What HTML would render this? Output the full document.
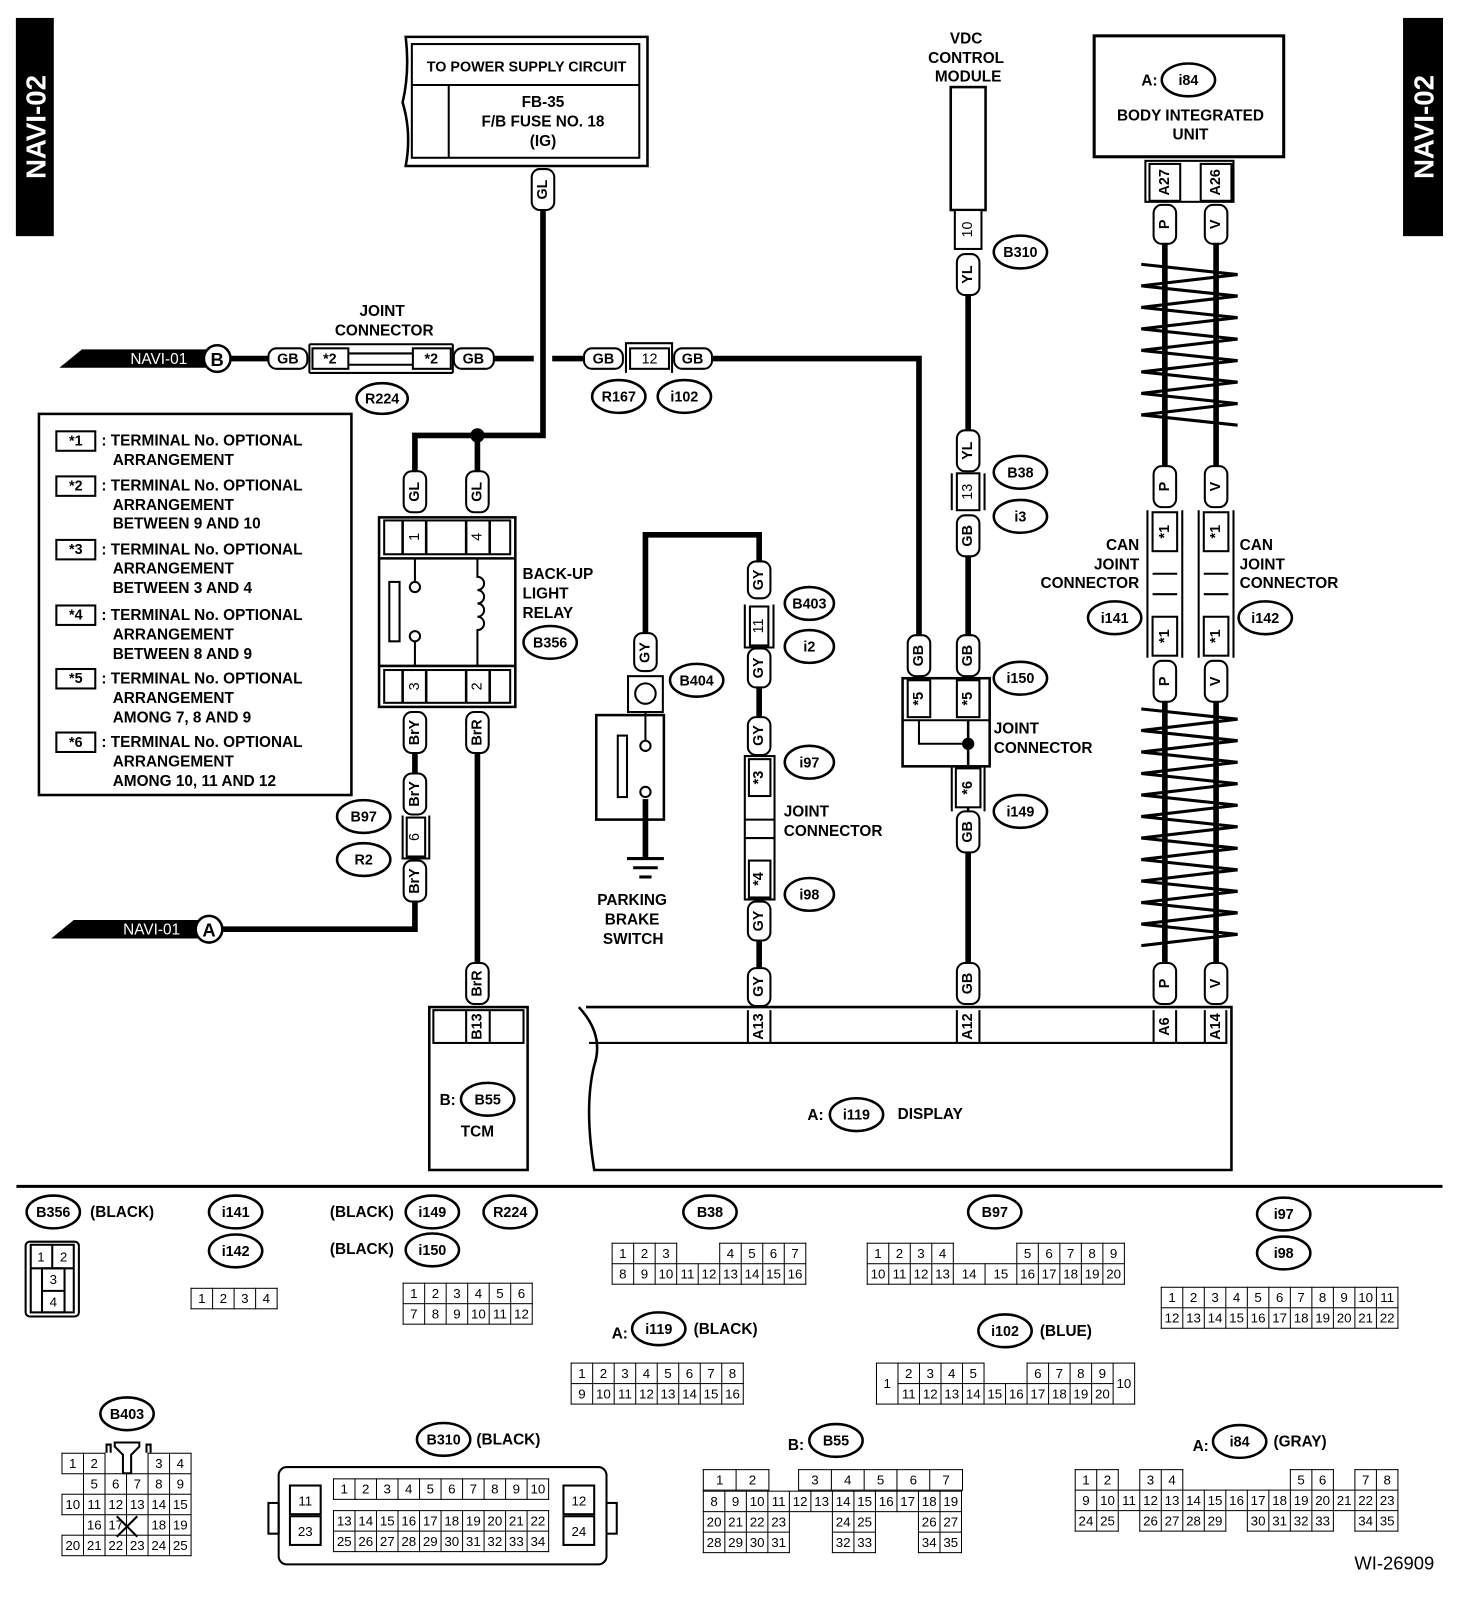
<!DOCTYPE html>
<html><head><meta charset="utf-8"><style>
body{margin:0;background:#fff;}
#w{position:relative;width:1430px;height:1560px;transform:scale(1.0245,1.0245);transform-origin:0 0;font-family:"Liberation Sans",sans-serif;font-weight:bold;}
svg{position:absolute;left:0;top:0;}
svg text{font-family:"Liberation Sans",sans-serif;font-weight:bold;font-size:15px;fill:#000;}
.c{text-anchor:middle;dominant-baseline:central;}
.s{font-size:14px;}
table{position:absolute;border-collapse:collapse;font-family:"Liberation Sans",sans-serif;font-weight:normal;font-size:13px;}
td{border:1.8px solid #000;text-align:center;padding:0;height:19px;width:20px;line-height:19px;}
td.g{border:none;}
</style></head><body><div id="w">
<svg width="1430" height="1560" viewBox="0 0 1430 1560">
<g fill="none" stroke="#000">
<rect x="16" y="18" width="36" height="212" fill="#000"/>
<rect x="1370" y="18" width="38" height="212" fill="#000"/>
</g>
<text class="c" transform="translate(35,124) rotate(-90)" style="fill:#fff;font-size:27px">NAVI-02</text>
<text class="c" transform="translate(1390,124) rotate(-90)" style="fill:#fff;font-size:27px">NAVI-02</text>

<g fill="none" stroke="#000" stroke-width="2">
<path d="M396 36 H632 V162 H396 Q402 130 393 100 Q400 70 396 36Z" stroke-width="2.5"/>
<rect x="402" y="43" width="222" height="111"/>
<line x1="402" y1="83" x2="624" y2="83"/>
<line x1="438" y1="83" x2="438" y2="154"/>
<rect x="1068" y="35" width="185" height="118" stroke-width="3"/>
<rect x="928" y="85" width="34" height="120" stroke-width="2.5"/>
<rect x="38" y="404" width="305" height="372" stroke-width="2.5"/>
</g>

<g fill="none" stroke="#000" stroke-width="5.5">
<polyline points="530,205 530,425 405,425 405,462"/>
<line x1="466" y1="425" x2="466" y2="462"/>
<line x1="405" y1="735" x2="405" y2="755"/>
<polyline points="405,880 405,907 218,907"/>
<line x1="466" y1="735" x2="466" y2="940"/>
<line x1="226" y1="350" x2="262" y2="350"/>
<line x1="482" y1="350" x2="521" y2="350"/>
<line x1="539" y1="350" x2="570" y2="350"/>
<polyline points="695,350 897,350 897,620"/>
<polyline points="630,620 630,522 741,522 741,548"/>
<line x1="741" y1="670" x2="741" y2="700"/>
<line x1="741" y1="918" x2="741" y2="945"/>
<line x1="945" y1="288" x2="945" y2="420"/>
<line x1="945" y1="543" x2="945" y2="620"/>
<line x1="945" y1="832" x2="945" y2="940"/>
<line x1="1137" y1="238" x2="1137" y2="455"/>
<line x1="1187" y1="238" x2="1187" y2="455"/>
<line x1="1137" y1="685" x2="1137" y2="940"/>
<line x1="1187" y1="685" x2="1187" y2="940"/>
<line x1="630" y1="780" x2="630" y2="838"/>
</g>
<g stroke="#000" stroke-width="3" fill="none">
<polyline points="1114,258 1208,268 1114,279 1208,289 1114,300 1208,310 1114,321 1208,331 1114,342 1208,352 1114,363 1208,373 1114,384 1208,394 1114,405 1208,415"/>
<polyline points="1114,692 1208,702 1114,713 1208,723 1114,734 1208,744 1114,755 1208,765 1114,776 1208,786 1114,797 1208,807 1114,818 1208,828 1114,839 1208,849 1114,860 1208,870 1114,881 1208,891 1114,902 1208,912 1114,923"/>
<line x1="612" y1="838" x2="648" y2="838"/><line x1="618" y1="847" x2="642" y2="847"/><line x1="624" y1="856" x2="636" y2="856"/>
</g>
<circle cx="466" cy="425" r="7"/>

<polygon points="58,359 80,341 205,341 205,359"/>
<text x="155" y="351" class="c" style="fill:#fff;font-weight:normal">NAVI-01</text>
<circle cx="212" cy="350" r="13" fill="#fff" stroke="#000" stroke-width="2.5"/>
<text x="212" y="351" class="c" style="font-size:18px">B</text>
<polygon points="50,916 72,898 195,898 195,916"/>
<text x="148" y="908" class="c" style="fill:#fff;font-weight:normal">NAVI-01</text>
<circle cx="204" cy="907" r="13" fill="#fff" stroke="#000" stroke-width="2.5"/>
<text x="204" y="908" class="c" style="font-size:18px">A</text>

<g fill="#fff" stroke="#000" stroke-width="2">
<rect x="262" y="340" width="38" height="20" rx="8"/>
<rect x="443" y="340" width="39" height="20" rx="8"/>
<rect x="570" y="340" width="38" height="20" rx="8"/>
<rect x="658" y="340" width="37" height="20" rx="8"/>
<rect x="305" y="340" width="35" height="20"/>
<rect x="403" y="340" width="37" height="20"/>
<rect x="615" y="340" width="38" height="20"/>
</g>
<g stroke="#000" stroke-width="2" fill="none">
<polyline points="302,336 442,336"/><polyline points="302,364 442,364"/>
<line x1="340" y1="345" x2="403" y2="345"/><line x1="340" y1="356" x2="403" y2="356"/>
<line x1="302" y1="336" x2="302" y2="364"/><line x1="442" y1="336" x2="442" y2="364"/>
<polyline points="611,364 611,335 656,335 656,364"/>
</g>
<text x="281" y="351" class="c s">GB</text><text x="462" y="351" class="c s">GB</text>
<text x="589" y="351" class="c s">GB</text><text x="676" y="351" class="c s">GB</text>
<text x="322" y="351" class="c s">*2</text><text x="421" y="351" class="c s">*2</text>
<text x="634" y="351" class="c s" style="font-weight:normal">12</text>
<text x="373" y="304" class="c">JOINT</text><text x="375" y="323" class="c">CONNECTOR</text>

<text x="514" y="66" class="c" style="font-size:14px">TO POWER SUPPLY CIRCUIT</text>
<text x="530" y="100" class="c">FB-35</text>
<text x="530" y="119" class="c">F/B FUSE NO. 18</text>
<text x="530" y="138" class="c">(IG)</text>

<text x="943" y="38" class="c">VDC</text><text x="943" y="57" class="c">CONTROL</text><text x="945" y="75" class="c">MODULE</text>
<text x="1122" y="79" class="c">A:</text>
<text x="1162" y="113" class="c">BODY INTEGRATED</text><text x="1162" y="132" class="c">UNIT</text>

<g fill="none" stroke="#000" stroke-width="2.5">
<rect x="370" y="505" width="133" height="185"/>
<line x1="370" y1="545" x2="503" y2="545"/><line x1="370" y1="650" x2="503" y2="650"/>
<rect x="375" y="508" width="123" height="33" stroke-width="2"/>
<rect x="375" y="654" width="123" height="32" stroke-width="2"/>
<line x1="393" y1="508" x2="393" y2="541"/><line x1="416" y1="508" x2="416" y2="541"/>
<line x1="455" y1="508" x2="455" y2="541"/><line x1="478" y1="508" x2="478" y2="541"/>
<line x1="393" y1="654" x2="393" y2="686"/><line x1="416" y1="654" x2="416" y2="686"/>
<line x1="455" y1="654" x2="455" y2="686"/><line x1="478" y1="654" x2="478" y2="686"/>
<rect x="380" y="568" width="10" height="58" stroke-width="2"/>
<line x1="405" y1="545" x2="405" y2="568" stroke-width="2"/>
<circle cx="405" cy="573" r="5" stroke-width="2"/>
<circle cx="405" cy="621" r="5" stroke-width="2"/>
<line x1="405" y1="626" x2="405" y2="650" stroke-width="2"/>
<path d="M466 545 V563 a6 6 0 0 1 0 13 a6 6 0 0 1 0 13 a6 6 0 0 1 0 13 a6 6 0 0 1 0 13 V650" stroke-width="2"/>
</g>
<text transform="translate(405,524) rotate(-90)" class="c s" style="font-weight:normal">1</text>
<text transform="translate(466,524) rotate(-90)" class="c s" style="font-weight:normal">4</text>
<text transform="translate(405,670) rotate(-90)" class="c s" style="font-weight:normal">3</text>
<text transform="translate(466,670) rotate(-90)" class="c s" style="font-weight:normal">2</text>
<text x="510" y="565">BACK-UP</text><text x="510" y="584">LIGHT</text><text x="510" y="603">RELAY</text>

<g fill="#fff" stroke="#000" stroke-width="2">
<rect x="519" y="165" width="22" height="40" rx="8"/>
<rect x="394" y="460" width="22" height="40" rx="8"/>
<rect x="455" y="460" width="22" height="40" rx="8"/>
<rect x="394" y="695" width="22" height="40" rx="8"/>
<rect x="455" y="695" width="22" height="40" rx="8"/>
<rect x="394" y="755" width="22" height="40" rx="8"/>
<rect x="394" y="840" width="22" height="40" rx="8"/>
<rect x="455" y="940" width="22" height="40" rx="8"/>
<rect x="619" y="618" width="22" height="37" rx="8"/>
<rect x="730" y="548" width="22" height="36" rx="8"/>
<rect x="730" y="633" width="22" height="38" rx="8"/>
<rect x="730" y="700" width="22" height="37" rx="8"/>
<rect x="730" y="880" width="22" height="38" rx="8"/>
<rect x="730" y="945" width="22" height="37" rx="8"/>
<rect x="934" y="248" width="22" height="40" rx="8"/>
<rect x="934" y="420" width="22" height="40" rx="8"/>
<rect x="934" y="503" width="22" height="40" rx="8"/>
<rect x="934" y="620" width="22" height="40" rx="8"/>
<rect x="886" y="620" width="22" height="40" rx="8"/>
<rect x="934" y="792" width="22" height="40" rx="8"/>
<rect x="934" y="940" width="22" height="40" rx="8"/>
<rect x="1126" y="200" width="22" height="38" rx="8"/>
<rect x="1176" y="200" width="22" height="38" rx="8"/>
<rect x="1126" y="455" width="22" height="40" rx="8"/>
<rect x="1176" y="455" width="22" height="40" rx="8"/>
<rect x="1126" y="645" width="22" height="40" rx="8"/>
<rect x="1176" y="645" width="22" height="40" rx="8"/>
<rect x="1126" y="940" width="22" height="40" rx="8"/>
<rect x="1176" y="940" width="22" height="40" rx="8"/>
</g>
<text transform="translate(530,185) rotate(-90)" class="c s">GL</text>
<text transform="translate(405,480) rotate(-90)" class="c s">GL</text>
<text transform="translate(466,480) rotate(-90)" class="c s">GL</text>
<text transform="translate(405,715) rotate(-90)" class="c s">BrY</text>
<text transform="translate(466,715) rotate(-90)" class="c s">BrR</text>
<text transform="translate(405,775) rotate(-90)" class="c s">BrY</text>
<text transform="translate(405,860) rotate(-90)" class="c s">BrY</text>
<text transform="translate(466,960) rotate(-90)" class="c s">BrR</text>
<text transform="translate(630,637) rotate(-90)" class="c s">GY</text>
<text transform="translate(741,566) rotate(-90)" class="c s">GY</text>
<text transform="translate(741,652) rotate(-90)" class="c s">GY</text>
<text transform="translate(741,718) rotate(-90)" class="c s">GY</text>
<text transform="translate(741,899) rotate(-90)" class="c s">GY</text>
<text transform="translate(741,963) rotate(-90)" class="c s">GY</text>
<text transform="translate(945,268) rotate(-90)" class="c s">YL</text>
<text transform="translate(945,440) rotate(-90)" class="c s">YL</text>
<text transform="translate(945,523) rotate(-90)" class="c s">GB</text>
<text transform="translate(945,640) rotate(-90)" class="c s">GB</text>
<text transform="translate(897,640) rotate(-90)" class="c s">GB</text>
<text transform="translate(945,812) rotate(-90)" class="c s">GB</text>
<text transform="translate(945,960) rotate(-90)" class="c s">GB</text>
<text transform="translate(1137,219) rotate(-90)" class="c s">P</text>
<text transform="translate(1187,219) rotate(-90)" class="c s">V</text>
<text transform="translate(1137,475) rotate(-90)" class="c s">P</text>
<text transform="translate(1187,475) rotate(-90)" class="c s">V</text>
<text transform="translate(1137,665) rotate(-90)" class="c s">P</text>
<text transform="translate(1187,665) rotate(-90)" class="c s">V</text>
<text transform="translate(1137,960) rotate(-90)" class="c s">P</text>
<text transform="translate(1187,960) rotate(-90)" class="c s">V</text>

<g fill="#fff" stroke="#000" stroke-width="2">
<rect x="397" y="798" width="18" height="38"/>
<rect x="732" y="592" width="18" height="38"/>
<rect x="932" y="205" width="26" height="38"/>
<rect x="934" y="462" width="22" height="36"/>
<rect x="1125" y="500" width="24" height="38"/>
<rect x="1175" y="500" width="24" height="38"/>
<rect x="1125" y="602" width="24" height="38"/>
<rect x="1175" y="602" width="24" height="38"/>
<rect x="1122" y="160" width="30" height="36"/>
<rect x="1172" y="160" width="30" height="36"/>
<rect x="613" y="660" width="34" height="35"/>
</g>
<g fill="none" stroke="#000" stroke-width="2">
<polyline points="393,796 393,838 419,838 419,796"/>
<polyline points="727,590 727,632 755,632 755,590"/>
<polyline points="929,462 929,498"/><polyline points="961,462 961,498"/>
<rect x="1118" y="157" width="86" height="40"/>
<line x1="1120" y1="498" x2="1120" y2="642"/><line x1="1154" y1="498" x2="1154" y2="642"/>
<line x1="1170" y1="498" x2="1170" y2="642"/><line x1="1204" y1="498" x2="1204" y2="642"/>
<line x1="1125" y1="560" x2="1149" y2="560"/><line x1="1125" y1="580" x2="1149" y2="580"/>
<line x1="1175" y1="560" x2="1199" y2="560"/><line x1="1175" y1="580" x2="1199" y2="580"/>
<circle cx="630" cy="677" r="10"/>
<rect x="582" y="698" width="66" height="102" stroke-width="2.5"/>
<rect x="603" y="718" width="9" height="60"/>
<circle cx="630" cy="728" r="5"/><circle cx="630" cy="773" r="5"/>
<line x1="630" y1="695" x2="630" y2="723"/>
<rect x="727" y="738" width="29" height="140"/>
<rect x="731" y="741" width="21" height="36"/><rect x="731" y="840" width="21" height="36"/>
<line x1="727" y1="800" x2="756" y2="800"/><line x1="727" y1="818" x2="756" y2="818"/>
<rect x="881" y="662" width="85" height="86" stroke-width="2.5"/>
<rect x="886" y="664" width="22" height="36"/><rect x="934" y="664" width="22" height="36"/>
<line x1="881" y1="703" x2="966" y2="703"/>
<polyline points="897,703 897,726 945,726"/>
<line x1="945" y1="703" x2="945" y2="792" stroke-width="2.5"/>
<polyline points="929,748 929,792"/><polyline points="961,748 961,792"/>
<rect x="933" y="750" width="24" height="38" fill="#fff"/>
</g>
<circle cx="945" cy="726" r="6"/>
<text transform="translate(405,817) rotate(-90)" class="c s" style="font-weight:normal">6</text>
<text transform="translate(741,611) rotate(-90)" class="c s" style="font-weight:normal">11</text>
<text transform="translate(945,224) rotate(-90)" class="c s" style="font-weight:normal">10</text>
<text transform="translate(945,480) rotate(-90)" class="c s" style="font-weight:normal">13</text>
<text transform="translate(1137,519) rotate(-90)" class="c s">*1</text>
<text transform="translate(1187,519) rotate(-90)" class="c s">*1</text>
<text transform="translate(1137,621) rotate(-90)" class="c s">*1</text>
<text transform="translate(1187,621) rotate(-90)" class="c s">*1</text>
<text transform="translate(1137,178) rotate(-90)" class="c s">A27</text>
<text transform="translate(1187,178) rotate(-90)" class="c s">A26</text>
<text transform="translate(741,759) rotate(-90)" class="c s">*3</text>
<text transform="translate(741,858) rotate(-90)" class="c s">*4</text>
<text transform="translate(897,682) rotate(-90)" class="c s">*5</text>
<text transform="translate(945,682) rotate(-90)" class="c s">*5</text>
<text transform="translate(945,769) rotate(-90)" class="c s">*6</text>

<g fill="none" stroke="#000" stroke-width="2.5">
<rect x="419" y="983" width="96" height="159"/>
<rect x="423" y="986" width="88" height="32" stroke-width="2"/>
<line x1="455" y1="986" x2="455" y2="1018" stroke-width="2"/><line x1="478" y1="986" x2="478" y2="1018" stroke-width="2"/>
<path d="M572 983 H1202 V1142 H580 Q570 1080 580 1040 Q590 1010 565 983"/>
<path d="M575 1018 H1197 V986" stroke-width="2"/>
<line x1="730" y1="986" x2="730" y2="1018" stroke-width="2"/><line x1="752" y1="986" x2="752" y2="1018" stroke-width="2"/>
<line x1="934" y1="986" x2="934" y2="1018" stroke-width="2"/><line x1="956" y1="986" x2="956" y2="1018" stroke-width="2"/>
<line x1="1126" y1="986" x2="1126" y2="1018" stroke-width="2"/><line x1="1148" y1="986" x2="1148" y2="1018" stroke-width="2"/>
<line x1="1176" y1="986" x2="1176" y2="1018" stroke-width="2"/>
</g>
<text transform="translate(466,1002) rotate(-90)" class="c s">B13</text>
<text transform="translate(741,1002) rotate(-90)" class="c s">A13</text>
<text transform="translate(945,1002) rotate(-90)" class="c s">A12</text>
<text transform="translate(1137,1002) rotate(-90)" class="c s">A6</text>
<text transform="translate(1187,1002) rotate(-90)" class="c s">A14</text>
<text x="437" y="1074" class="c">B:</text><text x="466" y="1105" class="c">TCM</text>
<text x="796" y="1089" class="c">A:</text><text x="908" y="1088" class="c">DISPLAY</text>

<text x="617" y="879" class="c">PARKING</text><text x="617" y="898" class="c">BRAKE</text><text x="618" y="917" class="c">SWITCH</text>
<text x="765" y="797">JOINT</text><text x="765" y="816">CONNECTOR</text>
<text x="970" y="716">JOINT</text><text x="970" y="735">CONNECTOR</text>
<text x="1112" y="537" text-anchor="end">CAN</text><text x="1112" y="556" text-anchor="end">JOINT</text><text x="1112" y="574" text-anchor="end">CONNECTOR</text>
<text x="1210" y="537">CAN</text><text x="1210" y="556">JOINT</text><text x="1210" y="574">CONNECTOR</text>

<g fill="#fff" stroke="#000" stroke-width="2">
<rect x="55" y="421" width="38" height="19"/><rect x="55" y="465" width="38" height="19"/>
<rect x="55" y="527" width="38" height="19"/><rect x="55" y="591" width="38" height="19"/>
<rect x="55" y="653" width="38" height="19"/><rect x="55" y="715" width="38" height="19"/>
</g>
<text x="74" y="431" class="c s">*1</text><text x="74" y="475" class="c s">*2</text><text x="74" y="537" class="c s">*3</text>
<text x="74" y="601" class="c s">*4</text><text x="74" y="663" class="c s">*5</text><text x="74" y="725" class="c s">*6</text>
<g style="font-size:15px">
<text x="99" y="435">: TERMINAL No. OPTIONAL</text><text x="110" y="454">ARRANGEMENT</text>
<text x="99" y="479">: TERMINAL No. OPTIONAL</text><text x="110" y="498">ARRANGEMENT</text><text x="110" y="516">BETWEEN 9 AND 10</text>
<text x="99" y="541">: TERMINAL No. OPTIONAL</text><text x="110" y="560">ARRANGEMENT</text><text x="110" y="579">BETWEEN 3 AND 4</text>
<text x="99" y="605">: TERMINAL No. OPTIONAL</text><text x="110" y="624">ARRANGEMENT</text><text x="110" y="643">BETWEEN 8 AND 9</text>
<text x="99" y="667">: TERMINAL No. OPTIONAL</text><text x="110" y="686">ARRANGEMENT</text><text x="110" y="705">AMONG 7, 8 AND 9</text>
<text x="99" y="729">: TERMINAL No. OPTIONAL</text><text x="110" y="748">ARRANGEMENT</text><text x="110" y="767">AMONG 10, 11 AND 12</text>
</g>

<g fill="#fff" stroke="#000" stroke-width="2.5">
<ellipse cx="1160" cy="78" rx="26" ry="16"/>
<ellipse cx="373" cy="389" rx="25" ry="15"/>
<ellipse cx="604" cy="387" rx="26" ry="16"/><ellipse cx="668" cy="387" rx="26" ry="16"/>
<ellipse cx="537" cy="627" rx="26" ry="16"/><ellipse cx="680" cy="664" rx="26" ry="16"/>
<ellipse cx="355" cy="797" rx="26" ry="16"/><ellipse cx="355" cy="839" rx="26" ry="16"/>
<ellipse cx="790" cy="589" rx="24" ry="16"/><ellipse cx="790" cy="631" rx="24" ry="16"/>
<ellipse cx="790" cy="744" rx="24" ry="16"/><ellipse cx="790" cy="873" rx="24" ry="16"/>
<ellipse cx="996" cy="246" rx="26" ry="16"/><ellipse cx="996" cy="461" rx="26" ry="16"/>
<ellipse cx="996" cy="504" rx="26" ry="16"/><ellipse cx="996" cy="662" rx="26" ry="16"/>
<ellipse cx="996" cy="792" rx="26" ry="16"/>
<ellipse cx="1088" cy="603" rx="26" ry="16"/><ellipse cx="1235" cy="603" rx="26" ry="16"/>
<ellipse cx="476" cy="1073" rx="26" ry="16"/><ellipse cx="836" cy="1088" rx="26" ry="16"/>
<ellipse cx="52" cy="1183" rx="26" ry="16"/><ellipse cx="230" cy="1183" rx="26" ry="16"/>
<ellipse cx="230" cy="1221" rx="26" ry="16"/><ellipse cx="422" cy="1183" rx="26" ry="16"/>
<ellipse cx="498" cy="1183" rx="26" ry="16"/><ellipse cx="422" cy="1220" rx="26" ry="16"/>
<ellipse cx="693" cy="1183" rx="26" ry="16"/><ellipse cx="971" cy="1183" rx="26" ry="16"/>
<ellipse cx="1253" cy="1185" rx="26" ry="16"/><ellipse cx="1253" cy="1223" rx="26" ry="16"/>
<ellipse cx="643" cy="1297" rx="26" ry="16"/><ellipse cx="981" cy="1299" rx="26" ry="16"/>
<ellipse cx="124" cy="1380" rx="26" ry="16"/><ellipse cx="433" cy="1405" rx="26" ry="16"/>
<ellipse cx="816" cy="1406" rx="26" ry="16"/><ellipse cx="1210" cy="1407" rx="26" ry="16"/>
</g>
<text x="1160" y="79" class="c s">i84</text>
<text x="373" y="390" class="c s">R224</text><text x="604" y="388" class="c s">R167</text><text x="668" y="388" class="c s">i102</text>
<text x="537" y="628" class="c s">B356</text><text x="680" y="665" class="c s">B404</text>
<text x="355" y="798" class="c s">B97</text><text x="355" y="840" class="c s">R2</text>
<text x="790" y="590" class="c s">B403</text><text x="790" y="632" class="c s">i2</text>
<text x="790" y="745" class="c s">i97</text><text x="790" y="874" class="c s">i98</text>
<text x="996" y="247" class="c s">B310</text><text x="996" y="462" class="c s">B38</text>
<text x="996" y="505" class="c s">i3</text><text x="996" y="663" class="c s">i150</text>
<text x="996" y="793" class="c s">i149</text>
<text x="1088" y="604" class="c s">i141</text><text x="1235" y="604" class="c s">i142</text>
<text x="476" y="1074" class="c s">B55</text><text x="836" y="1089" class="c s">i119</text>
<text x="52" y="1184" class="c s">B356</text><text x="230" y="1184" class="c s">i141</text>
<text x="230" y="1222" class="c s">i142</text><text x="422" y="1184" class="c s">i149</text>
<text x="498" y="1184" class="c s">R224</text><text x="422" y="1221" class="c s">i150</text>
<text x="693" y="1184" class="c s">B38</text><text x="971" y="1184" class="c s">B97</text>
<text x="1253" y="1186" class="c s">i97</text><text x="1253" y="1224" class="c s">i98</text>
<text x="643" y="1298" class="c s">i119</text><text x="981" y="1300" class="c s">i102</text>
<text x="124" y="1381" class="c s">B403</text><text x="433" y="1406" class="c s">B310</text>
<text x="816" y="1407" class="c s">B55</text><text x="1210" y="1408" class="c s">i84</text>
<text x="88" y="1188">(BLACK)</text>
<text x="322" y="1188">(BLACK)</text><text x="322" y="1224">(BLACK)</text>
<text x="605" y="1302" class="c">A:</text><text x="677" y="1302">(BLACK)</text>
<text x="1015" y="1304">(BLUE)</text>
<text x="465" y="1410">(BLACK)</text>
<text x="777" y="1411" class="c">B:</text>
<text x="1172" y="1412" class="c">A:</text><text x="1243" y="1412">(GRAY)</text>
<text x="1400" y="1532" text-anchor="end" style="font-weight:normal;font-size:18px">WI-26909</text>

<line x1="16" y1="1158" x2="1408" y2="1158" stroke="#000" stroke-width="3"/>

<g fill="none" stroke="#000" stroke-width="2">
<rect x="25" y="1212" width="52" height="73" rx="4"/>
<rect x="30" y="1215" width="42" height="66"/>
<line x1="30" y1="1238" x2="72" y2="1238"/><line x1="51" y1="1215" x2="51" y2="1238"/>
<rect x="41" y="1238" width="22" height="43"/><line x1="41" y1="1260" x2="63" y2="1260"/>
<rect x="272" y="1432" width="320" height="95" rx="8"/>
<rect x="262" y="1467" width="10" height="30"/><rect x="592" y="1467" width="10" height="30"/>
<rect x="283" y="1450" width="30" height="28"/><rect x="283" y="1480" width="30" height="28"/>
<rect x="550" y="1450" width="30" height="28"/><rect x="550" y="1480" width="30" height="28"/>
<polyline points="104,1418 104,1410 108,1410 108,1418"/><polyline points="143,1418 143,1410 147,1410 147,1418"/>
<path d="M112 1408 H136 V1412 L128 1420 V1438 H120 V1420 L112 1412Z"/>
<line x1="114" y1="1480" x2="134" y2="1500"/><line x1="134" y1="1480" x2="114" y2="1500"/>
</g>
<text x="40" y="1227" class="c" style="font-weight:normal;font-size:13px">1</text>
<text x="62" y="1227" class="c" style="font-weight:normal;font-size:13px">2</text>
<text x="52" y="1249" class="c" style="font-weight:normal;font-size:13px">3</text>
<text x="52" y="1271" class="c" style="font-weight:normal;font-size:13px">4</text>
<text x="298" y="1465" class="c" style="font-weight:normal;font-size:13px">11</text>
<text x="298" y="1495" class="c" style="font-weight:normal;font-size:13px">23</text>
<text x="565" y="1465" class="c" style="font-weight:normal;font-size:13px">12</text>
<text x="565" y="1495" class="c" style="font-weight:normal;font-size:13px">24</text>
</svg>

<table style="left:186px;top:1257px"><tr><td>1</td><td>2</td><td>3</td><td>4</td></tr></table>
<table style="left:393px;top:1252px"><tr><td>1</td><td>2</td><td>3</td><td>4</td><td>5</td><td>6</td></tr><tr><td>7</td><td>8</td><td>9</td><td>10</td><td>11</td><td>12</td></tr></table>
<table style="left:597px;top:1213px"><tr><td>1</td><td>2</td><td>3</td><td class="g"></td><td class="g"></td><td>4</td><td>5</td><td>6</td><td>7</td></tr><tr><td>8</td><td>9</td><td>10</td><td>11</td><td>12</td><td>13</td><td>14</td><td>15</td><td>16</td></tr></table>
<table style="left:846px;top:1213px"><tr><td>1</td><td>2</td><td>3</td><td>4</td><td class="g" style="width:30px"></td><td class="g" style="width:30px"></td><td>5</td><td>6</td><td>7</td><td>8</td><td>9</td></tr><tr><td>10</td><td>11</td><td>12</td><td>13</td><td style="width:30px">14</td><td style="width:30px">15</td><td>16</td><td>17</td><td>18</td><td>19</td><td>20</td></tr></table>
<table style="left:1133px;top:1256px"><tr><td>1</td><td>2</td><td>3</td><td>4</td><td>5</td><td>6</td><td>7</td><td>8</td><td>9</td><td>10</td><td>11</td></tr><tr><td>12</td><td>13</td><td>14</td><td>15</td><td>16</td><td>17</td><td>18</td><td>19</td><td>20</td><td>21</td><td>22</td></tr></table>
<table style="left:557px;top:1330px"><tr><td>1</td><td>2</td><td>3</td><td>4</td><td>5</td><td>6</td><td>7</td><td>8</td></tr><tr><td>9</td><td>10</td><td>11</td><td>12</td><td>13</td><td>14</td><td>15</td><td>16</td></tr></table>
<table style="left:855px;top:1330px"><tr><td rowspan="2">1</td><td>2</td><td>3</td><td>4</td><td>5</td><td class="g"></td><td class="g"></td><td>6</td><td>7</td><td>8</td><td>9</td><td rowspan="2">10</td></tr><tr><td>11</td><td>12</td><td>13</td><td>14</td><td>15</td><td>16</td><td>17</td><td>18</td><td>19</td><td>20</td></tr></table>
<table style="left:60px;top:1418px"><tr><td>1</td><td>2</td><td class="g"></td><td class="g"></td><td>3</td><td>4</td></tr><tr><td class="g"></td><td>5</td><td>6</td><td>7</td><td>8</td><td>9</td></tr><tr><td>10</td><td>11</td><td>12</td><td>13</td><td>14</td><td>15</td></tr><tr><td class="g"></td><td>16</td><td>17</td><td class="g"></td><td>18</td><td>19</td></tr><tr><td>20</td><td>21</td><td>22</td><td>23</td><td>24</td><td>25</td></tr></table>
<table style="left:325px;top:1443px"><tr><td>1</td><td>2</td><td>3</td><td>4</td><td>5</td><td>6</td><td>7</td><td>8</td><td>9</td><td>10</td></tr></table>
<table style="left:325px;top:1474px"><tr><td>13</td><td>14</td><td>15</td><td>16</td><td>17</td><td>18</td><td>19</td><td>20</td><td>21</td><td>22</td></tr><tr><td>25</td><td>26</td><td>27</td><td>28</td><td>29</td><td>30</td><td>31</td><td>32</td><td>33</td><td>34</td></tr></table>
<table style="left:686px;top:1434px"><tr><td style="width:31px">1</td><td style="width:31px">2</td><td class="g" style="width:28px"></td><td style="width:31px">3</td><td style="width:31px">4</td><td style="width:31px">5</td><td style="width:31px">6</td><td style="width:31px">7</td></tr></table>
<table style="left:686px;top:1455px">
<tr><td>8</td><td>9</td><td>10</td><td>11</td><td>12</td><td>13</td><td>14</td><td>15</td><td>16</td><td>17</td><td>18</td><td>19</td></tr>
<tr><td>20</td><td>21</td><td>22</td><td>23</td><td class="g"></td><td class="g"></td><td>24</td><td>25</td><td class="g"></td><td class="g"></td><td>26</td><td>27</td></tr>
<tr><td>28</td><td>29</td><td>30</td><td>31</td><td class="g"></td><td class="g"></td><td>32</td><td>33</td><td class="g"></td><td class="g"></td><td>34</td><td>35</td></tr></table>
<table style="left:1049px;top:1434px"><tr><td>1</td><td>2</td><td class="g"></td><td>3</td><td>4</td><td class="g"></td><td class="g"></td><td class="g"></td><td class="g"></td><td class="g"></td><td>5</td><td>6</td><td class="g"></td><td>7</td><td>8</td></tr>
<tr><td>9</td><td>10</td><td>11</td><td>12</td><td>13</td><td>14</td><td>15</td><td>16</td><td>17</td><td>18</td><td>19</td><td>20</td><td>21</td><td>22</td><td>23</td></tr>
<tr><td>24</td><td>25</td><td class="g"></td><td>26</td><td>27</td><td>28</td><td>29</td><td class="g"></td><td>30</td><td>31</td><td>32</td><td>33</td><td class="g"></td><td>34</td><td>35</td></tr></table>
</div></body></html>
